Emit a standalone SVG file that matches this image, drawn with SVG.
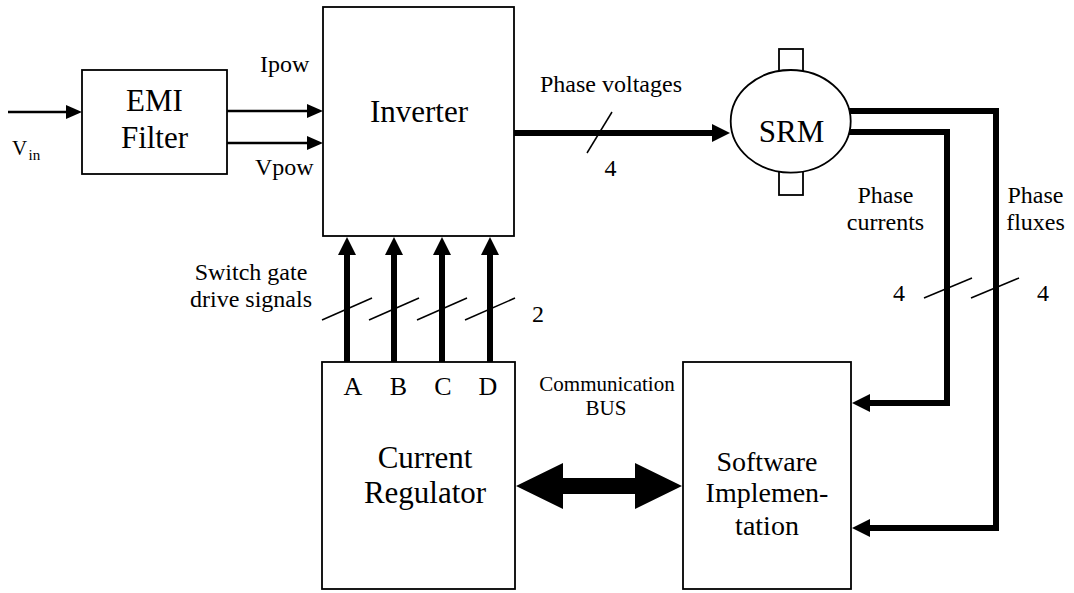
<svg xmlns="http://www.w3.org/2000/svg" width="1074" height="593" viewBox="0 0 1074 593">
<style>
text{font-family:"Liberation Serif","Times New Roman",serif;fill:#000}
.big{font-size:31px;text-anchor:middle}
.sw{font-size:28px;text-anchor:middle}
.lbl{font-size:24px}
.mid{text-anchor:middle}
.box{fill:#fff;stroke:#000;stroke-width:1.8}
.thin{stroke:#000;stroke-width:2.6;fill:none}
.thick{stroke:#000;stroke-width:6;fill:none;stroke-linejoin:miter}
.slash{stroke:#000;stroke-width:1.5}
</style>
<defs>
<marker id="ah" viewBox="0 0 16 16" markerWidth="16" markerHeight="16" refX="2" refY="8" orient="auto" markerUnits="userSpaceOnUse"><path d="M0,1 L16,8 L0,15 Z" fill="#000"/></marker>
<marker id="ahT" viewBox="0 0 18 18" markerWidth="18" markerHeight="18" refX="2" refY="9" orient="auto" markerUnits="userSpaceOnUse"><path d="M0,0 L18,9 L0,18 Z" fill="#000"/></marker>
</defs>
<g id="connectors">
<line class="thin" x1="8" y1="112" x2="68" y2="112" marker-end="url(#ah)"/>
<line class="thin" x1="227" y1="111" x2="309" y2="111" marker-end="url(#ah)"/>
<line class="thin" x1="227" y1="143" x2="309" y2="143" marker-end="url(#ah)"/>
<line class="thick" x1="514" y1="133" x2="714" y2="133" marker-end="url(#ahT)"/>
<line class="slash" x1="587" y1="153" x2="612" y2="112"/>
<line class="thick" x1="347" y1="362" x2="347" y2="253" marker-end="url(#ahT)"/>
<line class="thick" x1="394" y1="362" x2="394" y2="253" marker-end="url(#ahT)"/>
<line class="thick" x1="442" y1="362" x2="442" y2="253" marker-end="url(#ahT)"/>
<line class="thick" x1="490" y1="362" x2="490" y2="253" marker-end="url(#ahT)"/>
<line class="slash" x1="322" y1="320" x2="372" y2="298"/>
<line class="slash" x1="369" y1="320" x2="419" y2="298"/>
<line class="slash" x1="417" y1="320" x2="467" y2="298"/>
<line class="slash" x1="465" y1="320" x2="515" y2="298"/>
<path class="thick" d="M849,132 H947 V403 H868" marker-end="url(#ahT)"/>
<path class="thick" d="M849,111 H996 V528 H868" marker-end="url(#ahT)"/>
<line class="slash" x1="924" y1="298" x2="972" y2="278"/>
<line class="slash" x1="971" y1="298" x2="1019" y2="278"/>
<path d="M516,486 L563,463 L563,478 L635,478 L635,463 L682,486 L635,509 L635,494 L563,494 L563,509 Z" fill="#000"/>
</g>
<g id="vin-label">
<text x="12" y="155" style="font-size:21px">V<tspan x="28.5" y="160" style="font-size:15px">in</tspan></text>
</g>
<g id="emi-filter">
<rect class="box" x="82" y="70" width="145" height="104"/>
<text class="big" x="154.5" y="111">EMI</text>
<text class="big" x="154.5" y="148">Filter</text>
</g>
<g id="pow-labels">
<text class="lbl" x="260" y="72">Ipow</text>
<text class="lbl" x="255" y="175">Vpow</text>
</g>
<g id="inverter">
<rect class="box" x="323" y="7" width="191" height="229"/>
<text class="big" x="419" y="122">Inverter</text>
</g>
<g id="phase-voltage-labels">
<text class="lbl" x="540" y="92">Phase voltages</text>
<text class="lbl mid" x="610.5" y="176">4</text>
</g>
<g id="srm">
<rect class="box" x="779" y="49" width="24" height="28"/>
<rect class="box" x="779" y="167" width="24" height="28"/>
<ellipse class="box" cx="790.7" cy="121.3" rx="60" ry="51.3"/>
<text class="big" x="791.5" y="142">SRM</text>
</g>
<g id="feedback-labels">
<text class="lbl mid" x="885.5" y="203">Phase</text>
<text class="lbl mid" x="885.5" y="230">currents</text>
<text class="lbl mid" x="1035.5" y="203">Phase</text>
<text class="lbl mid" x="1035.5" y="230">fluxes</text>
<text class="lbl mid" x="899" y="300.5">4</text>
<text class="lbl mid" x="1043" y="300.5">4</text>
</g>
<g id="gate-labels">
<text class="lbl mid" x="251" y="280">Switch gate</text>
<text class="lbl mid" x="251" y="307">drive signals</text>
<text class="lbl mid" x="538" y="322">2</text>
</g>
<g id="current-regulator">
<rect class="box" x="322" y="362" width="193" height="227"/>
<text class="mid" x="353" y="395" style="font-size:26px">A</text>
<text class="mid" x="398.5" y="395" style="font-size:26px">B</text>
<text class="mid" x="443" y="395" style="font-size:26px">C</text>
<text class="mid" x="488" y="395" style="font-size:26px">D</text>
<text class="big" x="425" y="468">Current</text>
<text class="big" x="425" y="503">Regulator</text>
</g>
<g id="bus-label">
<text class="mid" x="607" y="391" style="font-size:21px">Communication</text>
<text class="mid" x="606" y="415" style="font-size:21px">BUS</text>
</g>
<g id="software">
<rect class="box" x="683" y="362" width="168" height="227"/>
<text class="sw" x="767" y="471">Software</text>
<text class="sw" x="767" y="502">Implemen-</text>
<text class="sw" x="767" y="535">tation</text>
</g>
</svg>
